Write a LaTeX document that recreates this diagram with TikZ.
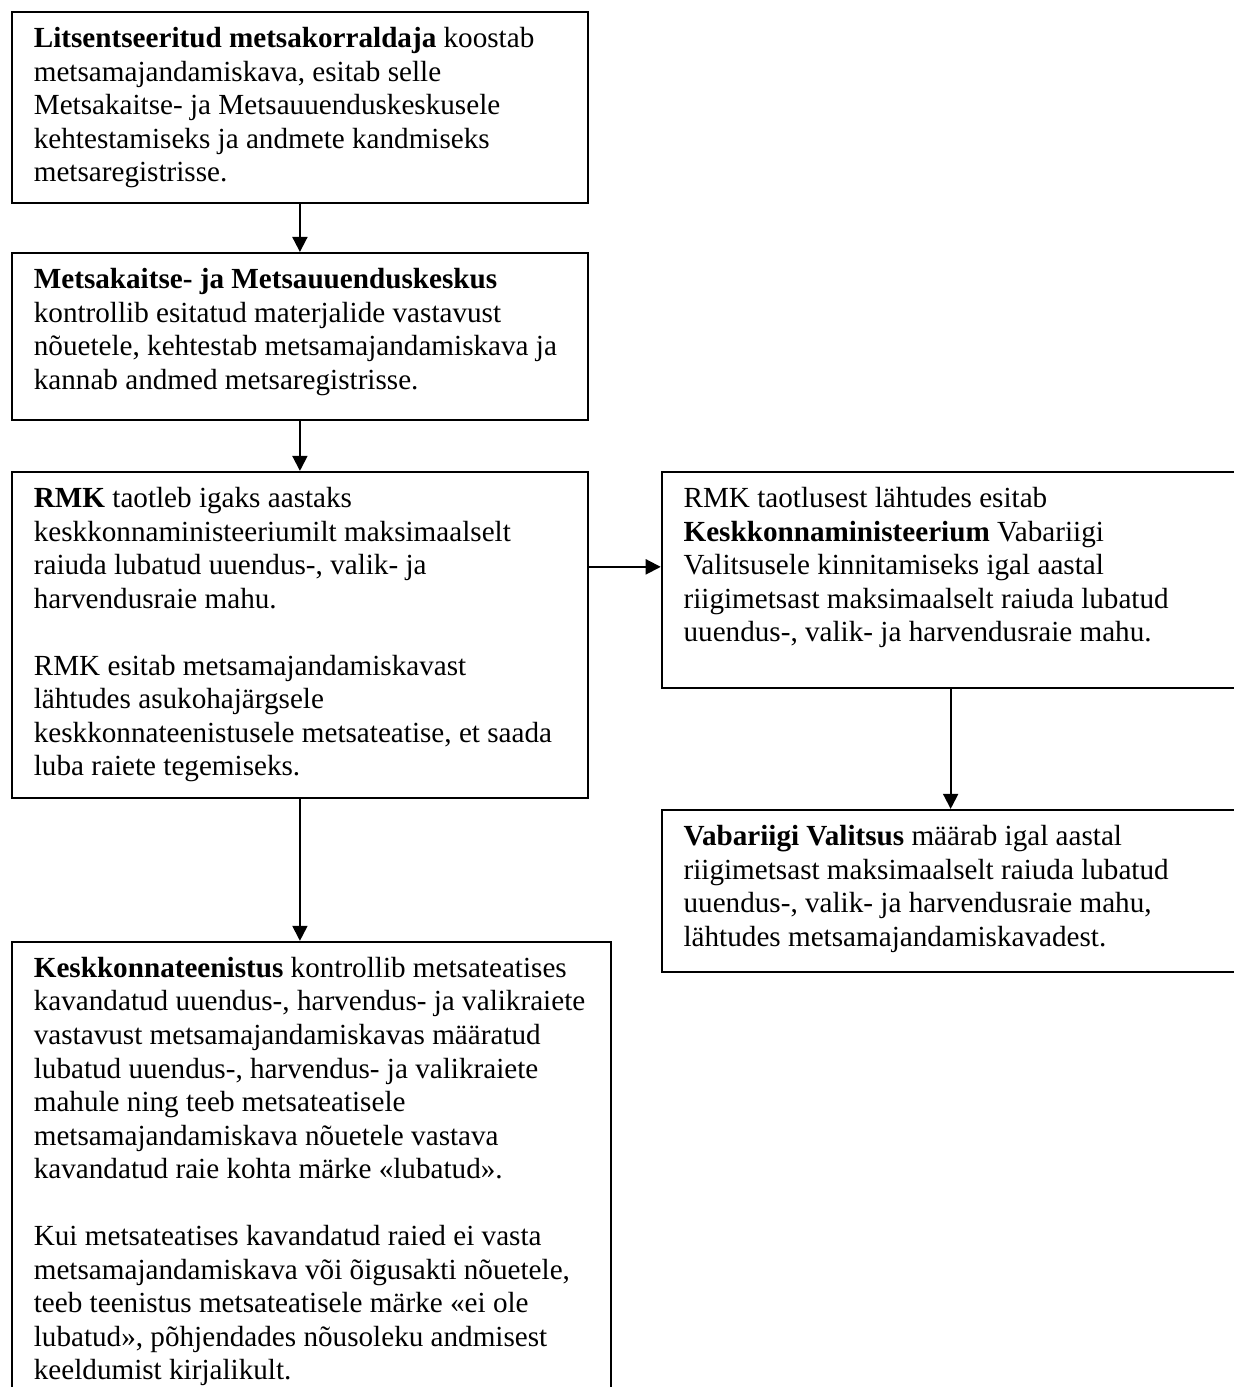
\documentclass[tikz,border=0pt]{standalone}
\usepackage{fontspec}
\setmainfont{Liberation Serif}
\usetikzlibrary{positioning, arrows.meta}

% text of a box: width, height, lines
\newcommand{\boxtext}[3]{\parbox[c][#2][t]{#1}{\raggedright\leftskip=9pt\relax\strut #3}}

\tikzstyle{box} = [rectangle, draw=black, line width=0.8pt, inner xsep=0pt, inner ysep=5pt, font=\fontsize{12}{13.8}\selectfont]
\tikzstyle{arrow} = [line width=0.8pt, -{Triangle[width=6.2pt,length=6.2pt]}]

\begin{document}
\begin{tikzpicture}
	\useasboundingbox (0,0) rectangle (507.8pt,-570.8pt);

	\node (n0) [box, anchor=north west] at (4.53pt,-4.53pt) {\boxtext{237pt}{68.6pt}{%
		\textbf{Litsentseeritud metsakorraldaja} koostab\\
		metsamajandamiskava, esitab selle\\
		Metsakaitse- ja Metsauuenduskeskusele\\
		kehtestamiseks ja andmete kandmiseks\\
		metsaregistrisse.}};
	\node (n1) [box, below=19.75pt of n0] {\boxtext{237pt}{58.7pt}{%
		\textbf{Metsakaitse- ja Metsauuenduskeskus}\\
		kontrollib esitatud materjalide vastavust\\
		nõuetele, kehtestab metsamajandamiskava ja\\
		kannab andmed metsaregistrisse.}};
	\node (n2) [box, below=20.6pt of n1] {\boxtext{237pt}{124.2pt}{%
		\textbf{RMK} taotleb igaks aastaks\\
		keskkonnaministeeriumilt maksimaalselt\\
		raiuda lubatud uuendus-, valik- ja\\
		harvendusraie mahu.\\[\baselineskip]
		RMK esitab metsamajandamiskavast\\
		lähtudes asukohajärgsele\\
		keskkonnateenistusele metsateatise, et saada\\
		luba raiete tegemiseks.}};
	\node (n3) [box, right=29.6pt of n2.north east, anchor=north west] {\boxtext{237.8pt}{78.9pt}{%
		RMK taotlusest lähtudes esitab\\
		\textbf{Keskkonnaministeerium} Vabariigi\\
		Valitsusele kinnitamiseks igal aastal\\
		riigimetsast maksimaalselt raiuda lubatud\\
		uuendus-, valik- ja harvendusraie mahu.}};
	\node (n4) [box, below=49.4pt of n3] {\boxtext{237.8pt}{56.7pt}{%
		\textbf{Vabariigi Valitsus} määrab igal aastal\\
		riigimetsast maksimaalselt raiuda lubatud\\
		uuendus-, valik- ja harvendusraie mahu,\\
		lähtudes metsamajandamiskavadest.}};
	\node (n5) [box, below=58.4pt of n2.south west, anchor=north west] {\boxtext{246.5pt}{183.4pt}{%
		\textbf{Keskkonnateenistus} kontrollib metsateatises\\
		kavandatud uuendus-, harvendus- ja valikraiete\\
		vastavust metsamajandamiskavas määratud\\
		lubatud uuendus-, harvendus- ja valikraiete\\
		mahule ning teeb metsateatisele\\
		metsamajandamiskava nõuetele vastava\\
		kavandatud raie kohta märke «lubatud».\\[\baselineskip]
		Kui metsateatises kavandatud raied ei vasta\\
		metsamajandamiskava või õigusakti nõuetele,\\
		teeb teenistus metsateatisele märke «ei ole\\
		lubatud», põhjendades nõusoleku andmisest\\
		keeldumist kirjalikult.}};

	\draw [arrow] (n0) -- (n1);
	\draw [arrow] (n1) -- (n2);
	\draw [arrow] ([yshift=-39.5pt]n2.north east) -- ([yshift=-39.5pt]n3.north west);
	\draw [arrow] (n3) -- (n4);
	\draw [arrow] (n2.south) -- (n2.south |- n5.north);
\end{tikzpicture}
\end{document}
